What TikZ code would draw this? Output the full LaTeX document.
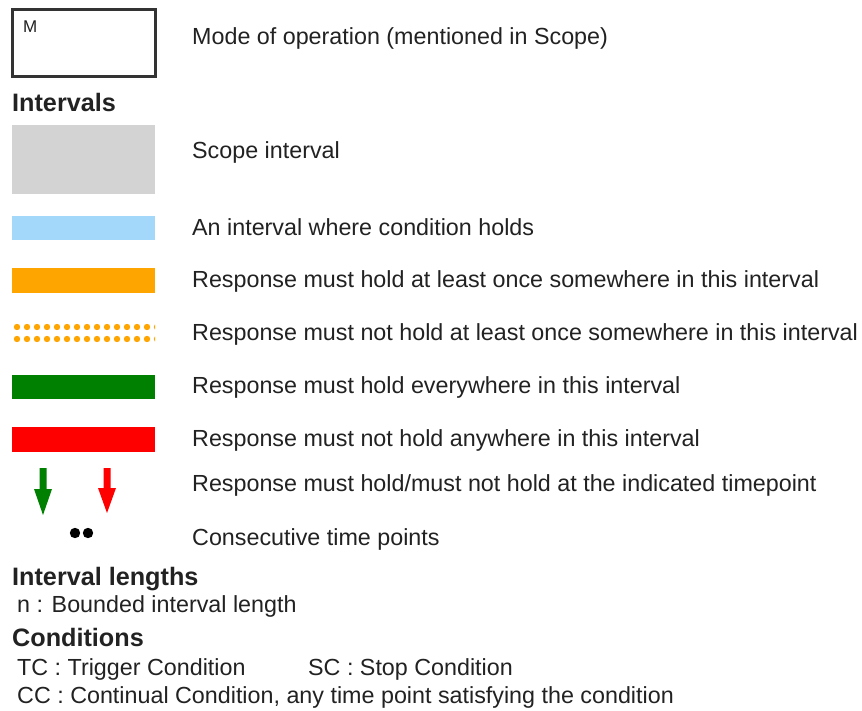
\documentclass[tikz,border=0pt]{standalone}
\usepackage{fontspec}
\setmainfont{Liberation Sans}
\definecolor{inkgray}{HTML}{222222}
\definecolor{scopegray}{HTML}{D3D3D3}
\definecolor{condblue}{HTML}{A3D8FA}
\definecolor{onceorange}{HTML}{FFA500}
\definecolor{allgreen}{HTML}{008000}
\definecolor{nonered}{HTML}{FF0000}
\definecolor{boxedge}{HTML}{333333}
\tikzset{
  lbl/.style={anchor=base west, inner sep=0pt, text=inkgray, font=\fontsize{23.3}{26}\selectfont},
  hdr/.style={anchor=base west, inner sep=0pt, text=inkgray, font=\fontsize{25.2}{28}\selectfont\bfseries},
}
\begin{document}
\begin{tikzpicture}[x=1pt,y=-1pt]
\useasboundingbox (0,0) rectangle (862,711);
\fill[white] (0,0) rectangle (862,711);

% mode box
\draw[boxedge, line width=3pt] (12.5,10) rectangle (155.5,77);
\node[anchor=base west, inner sep=0pt, text=inkgray, font=\fontsize{17}{19}\selectfont] (mlabel) at (23,33) {M};
\node[lbl] (tmode) at (192,44.5) {Mode of operation (mentioned in Scope)};

\node[hdr] (hint) at (12,111.5) {Intervals};

% interval swatches
\fill[scopegray] (12,125) rectangle (155,194);
\node[lbl] (tscope) at (192,158.5) {Scope interval};

\fill[condblue] (12,216) rectangle (155,240);
\node[lbl] (tcond) at (192,235.5) {An interval where condition holds};

\fill[onceorange] (12,268) rectangle (155,293);
\node[lbl] (tonce) at (192,287.5) {Response must hold at least once somewhere in this interval};

\begin{scope}
  \clip (12,318) rectangle (155,346);
  \foreach \i in {0,...,14} {
    \fill[onceorange] (17+10*\i,327) circle (3.2);
    \fill[onceorange] (17+10*\i,339) circle (3.2);
  }
\end{scope}
\node[lbl] (tnotonce) at (192,340.5) {Response must not hold at least once somewhere in this interval};

\fill[allgreen] (12,375) rectangle (155,399);
\node[lbl] (tall) at (192,393.5) {Response must hold everywhere in this interval};

\fill[nonered] (12,427) rectangle (155,452);
\node[lbl] (tnone) at (192,446.5) {Response must not hold anywhere in this interval};

% timepoint arrows
\fill[allgreen] (39.5,468) -- (46.5,468) -- (46.5,489) -- (52,489) -- (43,515) -- (34,489) -- (39.5,489) -- cycle;
\fill[nonered] (103.5,468) -- (110.5,468) -- (110.5,488) -- (116,488) -- (107,513) -- (98,488) -- (103.5,488) -- cycle;
\node[lbl] (tpoint) at (192,491.5) {Response must hold/must not hold at the indicated timepoint};

% consecutive time points
\fill[black] (75,533) circle (5.2);
\fill[black] (88,533) circle (5.2);
\node[lbl] (tconsec) at (192,545.5) {Consecutive time points};

\node[hdr] (hlen) at (12,585.5) {Interval lengths};
\node[lbl] (tn) at (17,612.5) {n : Bounded interval length};

\node[hdr] (hcond) at (12,646.5) {Conditions};
\node[lbl] (ttc) at (17,675.5) {TC : Trigger Condition};
\node[lbl] (tsc) at (308,675.5) {SC : Stop Condition};
\node[lbl] (tcc) at (17,703.5) {CC : Continual Condition, any time point satisfying the condition};
\end{tikzpicture}
\end{document}
